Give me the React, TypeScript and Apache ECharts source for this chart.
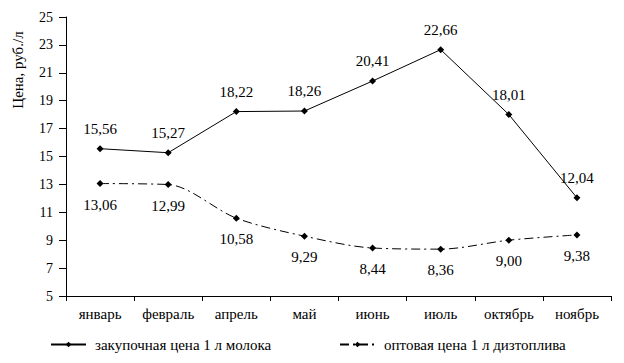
import React, { useEffect, useRef } from "react";
import * as echarts from "echarts";

const categories = ["январь", "февраль", "апрель", "май", "июнь", "июль", "октябрь", "ноябрь"];
const milkPrices = [15.56, 15.27, 18.22, 18.26, 20.41, 22.66, 18.01, 12.04];
const dieselPrices = [13.06, 12.99, 10.58, 9.29, 8.44, 8.36, 9.0, 9.38];
const milkName = "закупочная цена 1 л молока";
const dieselName = "оптовая цена 1 л дизтоплива";
const yTitle = "Цена, руб./л";

const FONT = "Liberation Serif";

export default function App() {
  const ref = useRef<HTMLDivElement>(null);
  useEffect(() => {
    if (!ref.current) return;
    const chart = echarts.init(ref.current, undefined, { renderer: "svg" });
    const fmt = (p: any) => Number(p.value).toFixed(2).replace(".", ",");
    const legendCommon = {
      bottom: 6,
      itemWidth: 35,
      itemHeight: 7,
      textStyle: { fontFamily: FONT, fontSize: 15, color: "#000", padding: [0, 0, 0, 4] },
    };
    chart.setOption({
      animation: false,
      backgroundColor: "#ffffff",
      textStyle: { fontFamily: FONT, color: "#000" },
      grid: { left: 66, right: 13, top: 17, bottom: 67 },
      xAxis: {
        type: "category",
        data: categories,
        boundaryGap: true,
        axisLine: { lineStyle: { color: "#000", width: 1 } },
        axisTick: { show: true, interval: 0, length: 5, lineStyle: { color: "#000" } },
        axisLabel: { color: "#000", fontFamily: FONT, fontSize: 15, margin: 10, interval: 0 },
        splitLine: { show: false },
      },
      yAxis: {
        type: "value",
        min: 5,
        max: 25,
        interval: 2,
        axisLine: { show: true, lineStyle: { color: "#000", width: 1 } },
        axisTick: { show: true, length: 7, lineStyle: { color: "#000" } },
        axisLabel: { color: "#000", fontFamily: FONT, fontSize: 14, margin: 13 },
        splitLine: { show: false },
      },
      legend: [
        { ...legendCommon, left: 45, data: [milkName] },
        { ...legendCommon, left: 334, data: [dieselName] },
      ],
      graphic: [
        {
          type: "text",
          x: 18,
          y: 70,
          rotation: Math.PI / 2,
          style: {
            text: yTitle,
            font: `15px ${FONT}`,
            fill: "#000",
            align: "center",
            verticalAlign: "middle",
          },
        },
      ],
      series: [
        {
          name: milkName,
          type: "line",
          data: milkPrices,
          symbol: "diamond",
          symbolSize: 7,
          itemStyle: { color: "#000" },
          lineStyle: { color: "#000", width: 1 },
          label: {
            show: true,
            position: "top",
            distance: 9,
            formatter: fmt,
            fontFamily: FONT,
            fontSize: 15,
            color: "#000",
          },
        },
        {
          name: dieselName,
          type: "line",
          data: dieselPrices,
          smooth: 0.3,
          symbol: "diamond",
          symbolSize: 7,
          itemStyle: { color: "#000" },
          lineStyle: { color: "#000", width: 1, type: [9, 4, 2, 4] },
          label: {
            show: true,
            position: "bottom",
            distance: 10,
            formatter: fmt,
            fontFamily: FONT,
            fontSize: 15,
            color: "#000",
          },
        },
      ],
    });
    return () => chart.dispose();
  }, []);
  return <div ref={ref} style={{ width: 624, height: 363, position: "absolute", left: 0, top: 0 }} />;
}
